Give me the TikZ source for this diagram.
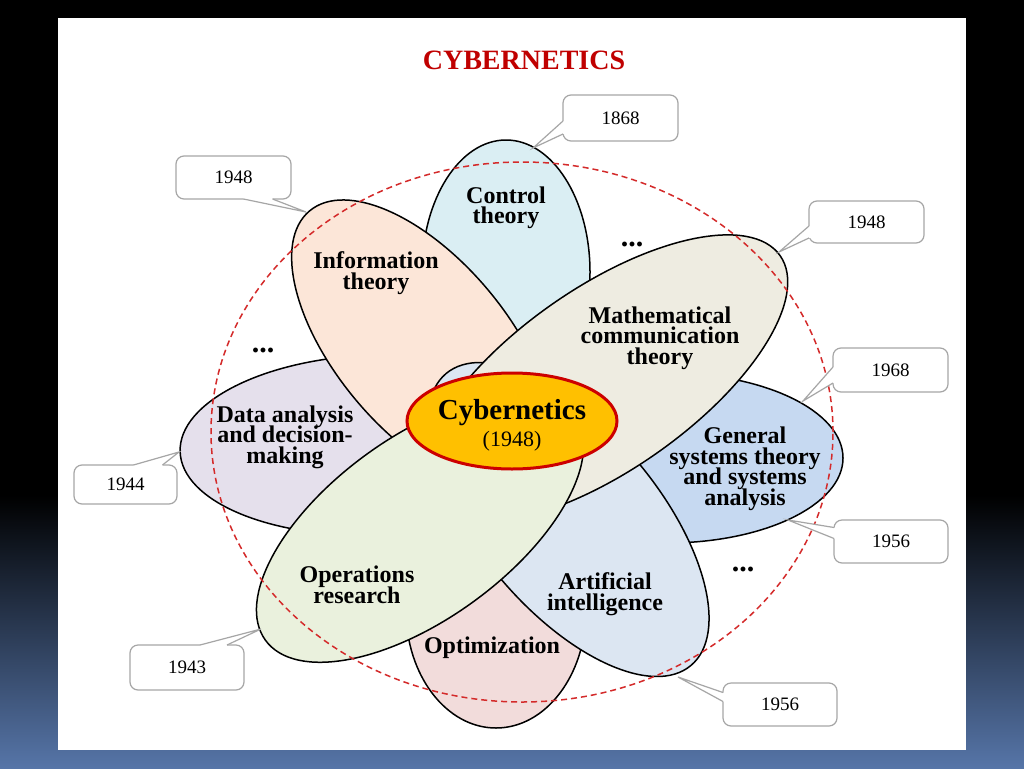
\documentclass[tikz,border=0pt]{standalone}
\usepackage{fontspec}
\setmainfont{Liberation Serif}
\usetikzlibrary{shapes.geometric,calc}
\definecolor{ctrlfill}{HTML}{DAEEF3}
\definecolor{infofill}{HTML}{FCE6D8}
\definecolor{mathfill}{HTML}{EEECE1}
\definecolor{datafill}{HTML}{E5E0EC}
\definecolor{gsfill}{HTML}{C6D9F1}
\definecolor{opsfill}{HTML}{EAF1DD}
\definecolor{aifill}{HTML}{DCE6F2}
\definecolor{optfill}{HTML}{F2DCDB}
\definecolor{cyberfill}{HTML}{FFC000}
\definecolor{cyberred}{HTML}{CC0000}
\definecolor{ringred}{HTML}{D42A2A}
\definecolor{titlered}{HTML}{C00000}
\definecolor{boxgray}{HTML}{A6A6A6}
\definecolor{bgblue}{RGB}{86,117,168}
\newcommand\tightlines{\lineskiplimit=-100pt\relax}
\newcommand\yeartail[4]{%
  \fill[white] ($(#1)+#4$) -- (#1) -- (#2) -- (#3) -- ($(#3)+#4$) -- cycle;
  \draw[tailline] (#1) -- (#2) -- (#3);}
\begin{document}
\begin{tikzpicture}[x=1pt,y=-1pt,
  petal/.style={ellipse, draw=black, line width=1.5pt, inner sep=0pt, outer sep=0pt},
  lbl/.style={font=\bfseries\fontsize{24}{20.5}\selectfont\tightlines, align=center, inner sep=0pt},
  yearbox/.style={draw=boxgray, line width=1.2pt, rounded corners=8pt, fill=white,
    minimum width=115pt, minimum height=44pt, inner sep=0pt, outer sep=0pt,
    font=\fontsize{19}{19}\selectfont},
  tailline/.style={draw=boxgray, line width=1.2pt, line join=miter},
  dotstext/.style={font=\bfseries\fontsize{30}{30}\selectfont, inner sep=0pt, anchor=base}]
\useasboundingbox (0,0) rectangle (1024,768);
\fill[black] (0,0) rectangle (1024,768);
\shade[top color=black, bottom color=bgblue] (0,495) rectangle (1024,768);
\fill[white] (58,18) rectangle (966,750);

\node[font=\bfseries\fontsize{28}{28}\selectfont, text=titlered, inner sep=0pt] (title) at (524,60) {CYBERNETICS};

% petals, bottom to top
\node[petal, fill=ctrlfill, minimum width=168pt, minimum height=264pt] (ctrl) at (506,272) {};
\node[petal, fill=datafill, minimum width=390pt, minimum height=180pt, rotate=2] (data) at (375,445) {};
\node[petal, fill=optfill, minimum width=180pt, minimum height=236pt] (opt) at (496,610) {};
\node[petal, fill=gsfill, minimum width=352pt, minimum height=170pt] (gs) at (667,458) {};
\node[petal, fill=infofill, minimum width=350pt, minimum height=172pt, rotate=-50] (info) at (422,345) {};
\node[petal, fill=aifill, minimum width=381pt, minimum height=180pt, rotate=-50] (ai) at (568.5,519.5) {};
\node[petal, fill=mathfill, minimum width=430pt, minimum height=182pt, rotate=35] (math) at (604,379) {};
\node[petal, fill=opsfill, minimum width=382pt, minimum height=182pt, rotate=36] (ops) at (420,528) {};
\node[ellipse, draw=cyberred, line width=3pt, fill=cyberfill, minimum width=210pt, minimum height=96pt, inner sep=0pt] (cyber) at (512,421) {};

% dashed ring
\node[ellipse, draw=ringred, line width=1.5pt, dash pattern=on 6pt off 4pt, minimum width=622pt, minimum height=540pt, inner sep=0pt] (ring) at (522,432) {};

% labels
\node[lbl] (lctrl) at (506,208) {Control\\theory};
\node[lbl] (linfo) at (376,273) {Information\\theory};
\node[lbl] (lmath) at (660,338) {Mathematical\\communication\\theory};
\node[lbl] (ldata) at (285,437) {Data analysis\\and decision-\\making};
\node[lbl] (lgs) at (745,469) {General\\systems theory\\and systems\\analysis};
\node[lbl] (lops) at (357,585) {Operations\\research};
\node[lbl] (lai) at (605,594) {Artificial\\intelligence};
\node[lbl] (lopt) at (492,648) {Optimization};
\node[font=\bfseries\fontsize{29}{29}\selectfont, inner sep=0pt] (lcyb) at (512,413) {Cybernetics};
\node[font=\fontsize{22}{22}\selectfont, inner sep=0pt] (lcybyr) at (512,441) {(1948)};

\node[dotstext] (dots1) at (632,246) {...};
\node[dotstext] (dots2) at (263,352) {...};
\node[dotstext] (dots3) at (743,571) {...};

% callouts
\node[yearbox, minimum height=46pt] (c1868) at (620.5,118) {1868};
\coordinate (p1868) at (533,148);
\coordinate (a1868) at ($(c1868.west)+(0,3)$);
\coordinate (b1868) at ($(c1868.west)+(0,16)$);
\yeartail{a1868}{p1868}{b1868}{(2,0)}

\node[yearbox, minimum height=43pt] (c1948l) at (233.5,177.5) {1948};
\coordinate (p1948l) at (306,212);
\coordinate (a1948l) at ($(c1948l.south)+(10,0)$);
\coordinate (b1948l) at ($(c1948l.south)+(39,0)$);
\yeartail{a1948l}{p1948l}{b1948l}{(0,-2)}

\node[yearbox, minimum height=42pt] (c1948r) at (866.5,222) {1948};
\coordinate (p1948r) at (779,252);
\coordinate (a1948r) at ($(c1948r.west)+(0,4)$);
\coordinate (b1948r) at ($(c1948r.west)+(0,16)$);
\yeartail{a1948r}{p1948r}{b1948r}{(2,0)}

\node[yearbox] (c1968) at (890.5,370) {1968};
\coordinate (p1968) at (803,401);
\coordinate (a1968) at ($(c1968.west)+(0,-3)$);
\coordinate (b1968) at ($(c1968.west)+(0,13)$);
\yeartail{a1968}{p1968}{b1968}{(2,0)}

\node[yearbox, minimum width=114pt, minimum height=43pt] (c1956r) at (891,541.5) {1956};
\coordinate (p1956r) at (788,520);
\coordinate (a1956r) at ($(c1956r.west)+(0,-14)$);
\coordinate (b1956r) at ($(c1956r.west)+(0,-3)$);
\yeartail{a1956r}{p1956r}{b1956r}{(2,0)}

\node[yearbox, minimum width=103pt, minimum height=39pt] (c1944) at (125.5,484.5) {1944};
\coordinate (p1944) at (179,452);
\coordinate (a1944) at ($(c1944.north)+(8,0)$);
\coordinate (b1944) at ($(c1944.north)+(37,0)$);
\yeartail{a1944}{p1944}{b1944}{(0,2)}

\node[yearbox, minimum width=114pt, minimum height=45pt] (c1943) at (187,667.5) {1943};
\coordinate (p1943) at (261,629);
\coordinate (a1943) at ($(c1943.north)+(13,0)$);
\coordinate (b1943) at ($(c1943.north)+(40,0)$);
\yeartail{a1943}{p1943}{b1943}{(0,2)}

\node[yearbox, minimum width=114pt, minimum height=43pt] (c1956b) at (780,704.5) {1956};
\coordinate (p1956b) at (678,677);
\coordinate (a1956b) at ($(c1956b.west)+(0,-12)$);
\coordinate (b1956b) at ($(c1956b.west)+(0,-3)$);
\yeartail{a1956b}{p1956b}{b1956b}{(2,0)}
\end{tikzpicture}
\end{document}
